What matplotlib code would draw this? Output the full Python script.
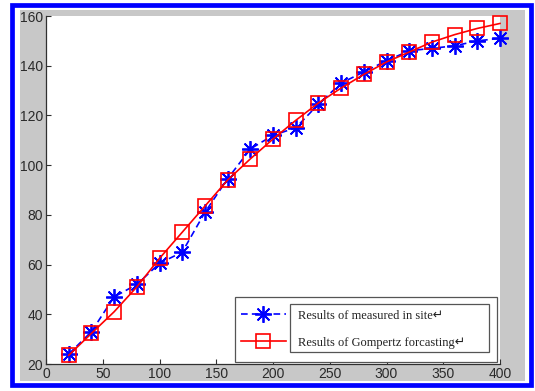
import matplotlib
matplotlib.use("Agg")
import matplotlib.pyplot as plt
from matplotlib.patches import Rectangle

# distance (x) and the two series
x = [20, 40, 60, 80, 100, 120, 140, 160, 180, 200,
     220, 240, 260, 280, 300, 320, 340, 360, 380, 400]
measured = [24, 33, 47, 52, 60.5, 65, 81, 94.5, 106.5, 112,
            115, 124.5, 133, 137.5, 142, 146, 147, 148, 150, 151]
gompertz = [23.5, 32.3, 41, 51, 62.5, 73, 83.5, 94, 102.5, 110.5,
            118, 125, 131, 136.5, 141.5, 145.5, 149.5, 152.5, 155, 157]
labels = ["Results of measured in site", "Results of Gompertz forcasting"]
xticks = [0, 50, 100, 150, 200, 250, 300, 350, 400]
yticks = [20, 40, 60, 80, 100, 120, 140, 160]

W, H = 535, 391
fig = plt.figure(figsize=(W / 100, H / 100), dpi=100, facecolor="white")

# grey matlab window background with a blue frame round it
fig.patches.append(Rectangle((20 / W, 1 - 381 / H), 505 / W, 371 / H,
                             transform=fig.transFigure, facecolor="#c8c8c8",
                             edgecolor="none", zorder=-2))
fig.patches.append(Rectangle((11.5 / W, 1 - 385 / H), 519 / W, 380.5 / H,
                             transform=fig.transFigure, facecolor="none",
                             edgecolor="#0000ff", linewidth=3.4, zorder=-1))

ax = fig.add_axes([46 / W, 1 - 364 / H, 454 / W, 348 / H])
ax.set_facecolor("white")

l1, = ax.plot(x, measured, color="#0000ff", linestyle="--", linewidth=1.2,
              marker=(8, 2, 0), markersize=12, markeredgewidth=1.3,
              dashes=(4, 2.5), clip_on=False)
l2, = ax.plot(x, gompertz, color="#ff0000", linestyle="-", linewidth=1.2,
              marker="s", markersize=10.5, markerfacecolor="none",
              markeredgewidth=1.2, clip_on=False)

ax.set_xlim(0, 400)
ax.set_ylim(20, 160)
ax.set_xticks(xticks)
ax.set_yticks(yticks)
for s in ["top", "right"]:
    ax.spines[s].set_visible(False)
for s in ["left", "bottom"]:
    ax.spines[s].set_color("#303030")
    ax.spines[s].set_linewidth(0.9)
ax.tick_params(direction="in", length=3.5, width=0.8, color="#303030",
               labelsize=10, labelcolor="#2a2a2a", pad=2)
for t in ax.get_xticklabels() + ax.get_yticklabels():
    t.set_family("Liberation Sans")

# legend boxes (outer legend frame and inner word text box)
ax.add_patch(Rectangle((0.416, 0.006), 0.577, 0.187, transform=ax.transAxes,
                       facecolor="white", edgecolor="#555555", linewidth=0.9,
                       zorder=5))
ax.add_patch(Rectangle((0.537, 0.034), 0.439, 0.138, transform=ax.transAxes,
                       facecolor="none", edgecolor="#555555", linewidth=0.9,
                       zorder=6))
leg = ax.legend([l1, l2], [s + "\u21b5" for s in labels], loc="center left",
                bbox_to_anchor=(0.415, 0.10), frameon=False,
                prop={"family": ["Liberation Serif", "DejaVu Sans"], "size": 9},
                handlelength=3.6, handletextpad=1.0, labelspacing=1.2,
                borderpad=0)
leg.set_zorder(7)
for t in leg.get_texts():
    t.set_color("#222222")

fig.savefig("out.png", dpi=100, facecolor="white")
